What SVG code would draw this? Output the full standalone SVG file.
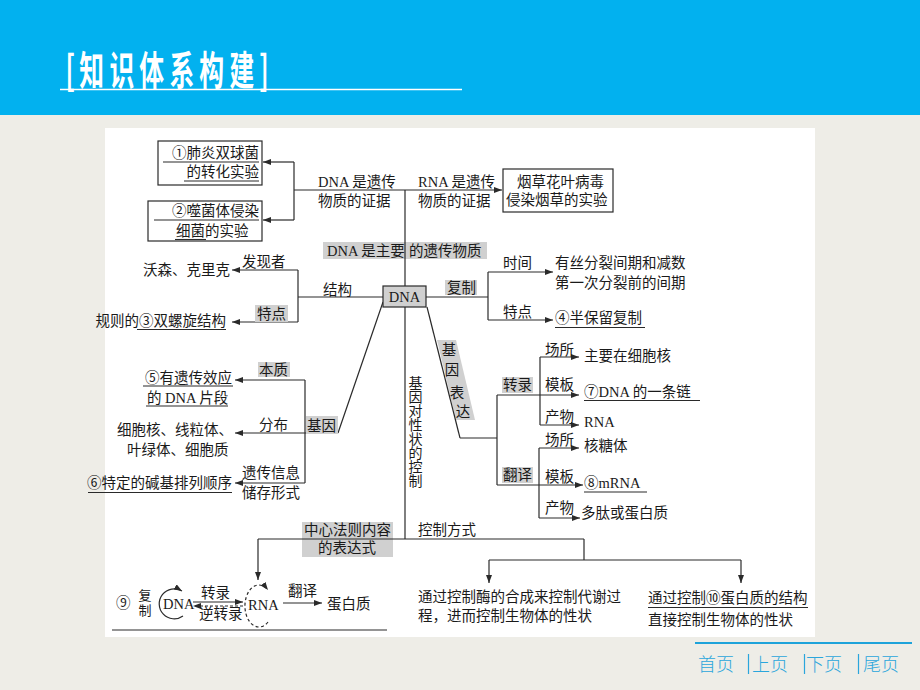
<svg xmlns="http://www.w3.org/2000/svg" width="920" height="690" viewBox="0 0 920 690">
<defs>
<style>
.t{font-family:"Liberation Serif","Noto Sans CJK SC",serif;font-size:14.5px;fill:#1a1a1a}
.s{font-size:13px}
.g{fill:#d0d0d0}
.ln{stroke:#2a2a2a;stroke-width:1.2;fill:none}
.ar{marker-end:url(#ah)}
.ul{stroke:#2a2a2a;stroke-width:1.1}
.ft{font-family:"Noto Sans CJK SC","Noto Sans",sans-serif;font-size:18px;fill:#2aa6dc;font-weight:300}
</style>
<marker id="ah" viewBox="0 0 8 6" refX="8" refY="3" markerWidth="8" markerHeight="6" markerUnits="userSpaceOnUse" orient="auto">
<path d="M0,0 L8,3 L0,6 Z" fill="#2a2a2a"/>
</marker>
</defs>
<rect x="0" y="0" width="920" height="690" fill="#eeede7"/>
<rect x="0" y="0" width="920" height="115" fill="#02b1ef"/>
<g id="title" fill="#ffffff" font-family="Noto Sans CJK SC,sans-serif" font-weight="bold">
<g transform="translate(0,85) scale(0.8,1.3)">
<text x="82" y="0" font-size="31">[</text>
<text x="99" y="0" font-size="31">知</text>
<text x="137" y="0" font-size="31">识</text>
<text x="174" y="0" font-size="31">体</text>
<text x="212" y="0" font-size="31">系</text>
<text x="249" y="0" font-size="31">构</text>
<text x="287" y="0" font-size="31">建</text>
<text x="324" y="0" font-size="31">]</text>
</g>
<line x1="60" y1="89.5" x2="462" y2="89.5" stroke="#ffffff" stroke-width="1.5"/>
</g>
<rect x="105" y="128" width="710" height="509" fill="#ffffff"/>

<g id="connectors">
<line class="ln" x1="294" y1="190" x2="502" y2="190" marker-end="url(#ah)"/>
<line class="ln" x1="294" y1="162" x2="294" y2="220"/>
<line class="ln ar" x1="294" y1="162" x2="263" y2="162"/>
<line class="ln ar" x1="294" y1="220" x2="263" y2="220"/>
<line class="ln" x1="405" y1="190" x2="405" y2="539"/>
<line class="ln" x1="298" y1="270" x2="298" y2="322"/>
<line class="ln" x1="298" y1="297" x2="383" y2="297"/>
<line class="ln ar" x1="298" y1="270" x2="232" y2="270"/>
<line class="ln ar" x1="298" y1="322" x2="232" y2="322"/>
<line class="ln" x1="426" y1="297" x2="488" y2="297"/>
<line class="ln" x1="488" y1="272" x2="488" y2="320"/>
<line class="ln ar" x1="488" y1="272" x2="553" y2="272"/>
<line class="ln ar" x1="488" y1="320" x2="553" y2="320"/>
<line class="ln" x1="383" y1="302" x2="338" y2="433"/>
<line class="ln" x1="305" y1="380" x2="305" y2="483"/>
<line class="ln ar" x1="338" y1="433" x2="235" y2="433"/>
<line class="ln ar" x1="305" y1="380" x2="235" y2="380"/>
<line class="ln ar" x1="305" y1="483" x2="235" y2="483"/>
<polygon points="437,340 456,340 475,420 456,420" class="g"/>
<line class="ln" x1="427" y1="307" x2="460" y2="438"/>
<line class="ln" x1="460" y1="438" x2="497" y2="438"/>
<line class="ln" x1="497" y1="395" x2="497" y2="485"/>
<line class="ln ar" x1="497" y1="395" x2="579" y2="395"/>
<line class="ln ar" x1="497" y1="485" x2="583" y2="485"/>
<line class="ln" x1="540" y1="357" x2="540" y2="425"/>
<line class="ln ar" x1="540" y1="357" x2="579" y2="357"/>
<line class="ln ar" x1="540" y1="425" x2="579" y2="425"/>
<line class="ln" x1="539" y1="448" x2="539" y2="518"/>
<line class="ln ar" x1="539" y1="448" x2="579" y2="448"/>
<line class="ln ar" x1="539" y1="518" x2="580" y2="518"/>
<rect x="302" y="522" width="91" height="35" class="g"/>
<line class="ln" x1="258" y1="539" x2="584" y2="539"/>
<line class="ln ar" x1="258" y1="539" x2="258" y2="580"/>
<line class="ln" x1="584" y1="539" x2="584" y2="560"/>
<line class="ln" x1="489" y1="560" x2="741" y2="560"/>
<line class="ln ar" x1="489" y1="560" x2="489" y2="583"/>
<line class="ln ar" x1="741" y1="560" x2="741" y2="583"/>
</g>

<g id="n-pneumo">
<rect x="158" y="141" width="104" height="44" fill="#fff" stroke="#2a2a2a" stroke-width="1.2"/>
<text class="t" x="259" y="158" text-anchor="end">①肺炎双球菌</text>
<text class="t" x="259" y="177" text-anchor="end">的转化实验</text>
<line class="ul" x1="163" y1="162" x2="259" y2="162"/>
<line class="ul" x1="184" y1="181" x2="259" y2="181"/>
</g>
<g id="n-phage">
<rect x="148" y="201" width="114" height="40" fill="#fff" stroke="#2a2a2a" stroke-width="1.2"/>
<text class="t" x="259" y="216" text-anchor="end">②噬菌体侵染</text>
<text class="t" x="176" y="236">细菌的实验</text>
<line class="ul" x1="154" y1="220" x2="259" y2="220"/>
<line class="ul" x1="175" y1="239.5" x2="206" y2="239.5"/>
</g>
<g id="n-dnaevi">
<text class="t" x="318" y="187">DNA 是遗传</text>
<text class="t" x="318" y="206">物质的证据</text>
</g>
<g id="n-rnaevi">
<text class="t" x="418" y="187">RNA 是遗传</text>
<text class="t" x="418" y="206">物质的证据</text>
</g>
<g id="n-tmv">
<rect x="503" y="169" width="110" height="43" fill="#fff" stroke="#2a2a2a" stroke-width="1.2"/>
<text class="t" x="517" y="187">烟草花叶病毒</text>
<text class="t" x="506" y="205">侵染烟草的实验</text>
</g>
<g id="n-main">
<rect x="323" y="242" width="164" height="17" class="g"/>
<line class="ln" x1="405" y1="242" x2="405" y2="259"/>
<text class="t" x="327" y="256">DNA 是主要</text>
<text class="t" x="409" y="256">的遗传物质</text>
</g>
<g id="n-dna">
<rect x="383" y="286" width="43" height="21" fill="#d0d0d0" stroke="#2a2a2a" stroke-width="1.2"/>
<text class="t" x="404.5" y="302" text-anchor="middle">DNA</text>
</g>
<g id="n-structure">
<text class="t" x="242" y="267">发现者</text>
<text class="t" x="230" y="275" text-anchor="end">沃森、克里克</text>
<text class="t" x="323" y="295">结构</text>
<rect x="255" y="305" width="33" height="17" class="g"/>
<text class="t" x="257" y="319">特点</text>
<text class="t" x="226" y="326" text-anchor="end">规则的③双螺旋结构</text>
<line class="ul" x1="137" y1="329.5" x2="226" y2="329.5"/>
</g>
<g id="n-replication">
<rect x="445" y="280" width="32" height="15" class="g"/>
<text class="t" x="447" y="293">复制</text>
<text class="t" x="503" y="268">时间</text>
<text class="t" x="555" y="268">有丝分裂间期和减数</text>
<text class="t" x="555" y="288">第一次分裂前的间期</text>
<text class="t" x="503" y="317">特点</text>
<text class="t" x="555" y="323">④半保留复制</text>
<line class="ul" x1="555" y1="327.5" x2="645" y2="327.5"/>
</g>
<g id="n-gene">
<rect x="258" y="362" width="32" height="15" class="g"/>
<text class="t" x="259" y="375">本质</text>
<text class="t" x="232" y="383" text-anchor="end">⑤有遗传效应</text>
<line class="ul" x1="143" y1="386" x2="233" y2="386"/>
<text class="t" x="147" y="403">的 DNA 片段</text>
<line class="ul" x1="146" y1="406" x2="228" y2="406"/>
<text class="t" x="259" y="430">分布</text>
<rect x="306" y="416" width="32" height="18" class="g"/>
<text class="t" x="307" y="431">基因</text>
<text class="t" x="233" y="435" text-anchor="end">细胞核、线粒体、</text>
<text class="t" x="127" y="455">叶绿体、细胞质</text>
<text class="t" x="242" y="478">遗传信息</text>
<text class="t" x="242" y="498">储存形式</text>
<text class="t" x="232" y="488" text-anchor="end">⑥特定的碱基排列顺序</text>
<line class="ul" x1="88" y1="492.5" x2="232" y2="492.5"/>
</g>
<g id="n-control-label">
<text class="t" x="414" y="376" font-size="14px" style="writing-mode:vertical-rl;font-size:14px">基因对性状的控制</text>
</g>
<g id="n-expression">
<text class="t" x="449" y="355" text-anchor="middle">基</text>
<text class="t" x="452" y="375" text-anchor="middle">因</text>
<text class="t" x="457" y="398" text-anchor="middle">表</text>
<text class="t" x="463" y="417" text-anchor="middle">达</text>
</g>
<g id="n-transcription">
<rect x="502" y="377" width="31" height="16" class="g"/>
<text class="t" x="503" y="390">转录</text>
<text class="t" x="545" y="355">场所</text>
<text class="t" x="584" y="361">主要在细胞核</text>
<text class="t" x="545" y="390">模板</text>
<text class="t" x="584" y="397">⑦DNA 的一条链</text>
<line class="ul" x1="584" y1="400.5" x2="700" y2="400.5"/>
<text class="t" x="545" y="422">产物</text>
<text class="t" x="584" y="427">RNA</text>
</g>
<g id="n-translation">
<rect x="502" y="467" width="31" height="16" class="g"/>
<text class="t" x="503" y="480">翻译</text>
<text class="t" x="545" y="445">场所</text>
<text class="t" x="584" y="451">核糖体</text>
<text class="t" x="545" y="482">模板</text>
<text class="t" x="584" y="488">⑧mRNA</text>
<line class="ul" x1="584" y1="492" x2="647" y2="492"/>
<text class="t" x="545" y="513">产物</text>
<text class="t" x="581" y="518">多肽或蛋白质</text>
</g>
<g id="n-dogma-label">
<text class="t" x="304" y="535">中心法则内容</text>
<text class="t" x="318" y="553">的表达式</text>
<text class="t" x="418" y="535">控制方式</text>
</g>
<g id="n-dogma">
<text class="t" x="116" y="608">⑨</text>
<text class="t s" x="145" y="600" text-anchor="middle">复</text>
<text class="t s" x="145" y="615" text-anchor="middle">制</text>
<path class="ln" d="M183,616 A15,15 0 1 1 182,591" marker-end="url(#ah)"/>
<text class="t" x="163" y="609" font-size="13.5px">DNA</text>
<line class="ln ar" x1="193" y1="602" x2="243" y2="602"/>
<line class="ln ar" x1="243" y1="606" x2="193" y2="606" stroke-dasharray="3,2"/>
<text class="t" x="201" y="598">转录</text>
<text class="t" x="199" y="619">逆转录</text>
<path class="ln" d="M268,622 A14,21 0 1 1 268,590" stroke-dasharray="3,2.5" marker-end="url(#ah)"/>
<text class="t" x="248" y="610" font-size="13.5px">RNA</text>
<text class="t" x="288" y="596">翻译</text>
<line class="ln ar" x1="283" y1="603" x2="322" y2="603"/>
<text class="t" x="327" y="609">蛋白质</text>
<line class="ul" x1="112" y1="630" x2="387" y2="630"/>
</g>
<g id="n-enzyme">
<text class="t" x="418" y="602">通过控制酶的合成来控制代谢过</text>
<text class="t" x="418" y="621">程，进而控制生物体的性状</text>
</g>
<g id="n-protein">
<text class="t" x="648" y="603">通过控制⑩蛋白质的结构</text>
<line class="ul" x1="648" y1="607.5" x2="808" y2="607.5"/>
<text class="t" x="648" y="625">直接控制生物体的性状</text>
</g>
<g id="footer">
<line x1="695" y1="643" x2="912" y2="643" stroke="#1ea3da" stroke-width="2"/>
<text class="ft" x="698" y="671">首页</text>
<line x1="748.5" y1="654" x2="748.5" y2="674" stroke="#2aa6dc" stroke-width="1.2"/>
<text class="ft" x="752" y="671">上页</text>
<line x1="804.5" y1="654" x2="804.5" y2="674" stroke="#2aa6dc" stroke-width="1.2"/>
<text class="ft" x="806" y="671">下页</text>
<line x1="858.5" y1="654" x2="858.5" y2="674" stroke="#2aa6dc" stroke-width="1.2"/>
<text class="ft" x="863" y="671">尾页</text>
</g>
</svg>
